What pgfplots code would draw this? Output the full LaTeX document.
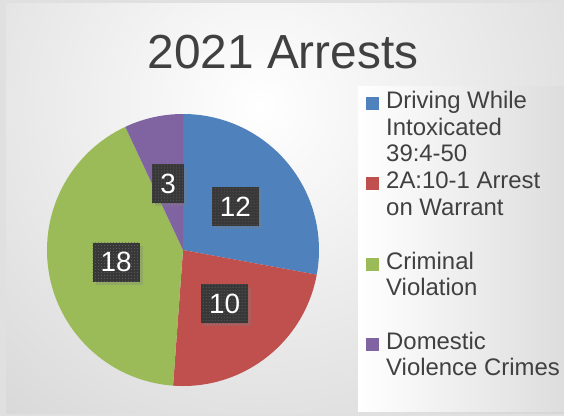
\documentclass[border=0pt]{standalone}
\usepackage{fontspec}
\setmainfont{Liberation Sans}
\usepackage{pgfplots}
\usepackage{pgfplotstable}
\pgfplotsset{compat=1.18}
\usetikzlibrary{shadows,patterns}

\definecolor{pieblue}{HTML}{4F81BD}
\definecolor{piered}{HTML}{C0504D}
\definecolor{piegreen}{HTML}{9BBB59}
\definecolor{piepurple}{HTML}{8064A2}
\definecolor{ink}{HTML}{404040}

% 2021 arrests by category
\pgfplotstableread{
label value
dwi 12
warrant 10
criminal 18
domestic 3
}\arrests

\newcommand\entry[1]{\parbox[b][74.8bp][t]{178bp}{\strut #1}}

\begin{document}
\begin{tikzpicture}[x=1bp,y=1bp]
\pgfplotstablegetelem{0}{value}\of\arrests \let\va\pgfplotsretval
\pgfplotstablegetelem{1}{value}\of\arrests \let\vb\pgfplotsretval
\pgfplotstablegetelem{2}{value}\of\arrests \let\vc\pgfplotsretval
\pgfplotstablegetelem{3}{value}\of\arrests \let\vd\pgfplotsretval
\pgfmathsetmacro\tot{\va+\vb+\vc+\vd}
\pgfmathsetmacro\aA{90}
\pgfmathsetmacro\aB{\aA-360*\va/\tot}
\pgfmathsetmacro\aC{\aB-360*\vb/\tot}
\pgfmathsetmacro\aD{\aC-360*\vc/\tot}
\pgfmathsetmacro\aE{\aD-360*\vd/\tot}
\pgfmathsetmacro\mA{(\aA+\aB)/2}
\pgfmathsetmacro\mB{(\aB+\aC)/2}
\pgfmathsetmacro\mC{(\aC+\aD)/2}
\pgfmathsetmacro\mD{(\aD+\aE)/2}

% slide background
\useasboundingbox (0,0) rectangle (564,416);
\fill[black!12] (0,0) rectangle (564,416);
\begin{scope}
  \clip (6,3) rectangle (564,412);
  \shade[inner color=white, outer color=black!24] (260,310) circle (640);
\end{scope}

\node[font=\fontsize{48}{58}\selectfont, text=ink, anchor=base] at (283,348) {2021 Arrests};

\tikzset{lab/.style={fill=black!78, text=white, font=\fontsize{28}{34}\selectfont,
  inner xsep=8bp, inner ysep=0bp, minimum height=39bp,
  drop shadow={shadow xshift=3bp, shadow yshift=-3bp, opacity=0.3},
  postaction={pattern=dots, pattern color=black!62}}}

\begin{axis}[
    at={(47bp,30bp)}, anchor=south west,
    scale only axis, width=272bp, height=272bp,
    xmin=-1, xmax=1, ymin=-1, ymax=1,
    hide axis, clip=false,
    legend image code/.code={\fill[#1, draw=none] (0bp,55bp) rectangle (13bp,68bp);},
    legend style={at={(1.1434,1.103)}, anchor=north west, draw=none,
      left color=white, right color=black!14,
      inner xsep=8bp, inner ysep=2bp,
      cells={anchor=base west},
      /tikz/every odd column/.append style={column sep=5bp},
      font=\fontsize{24}{26.5}\selectfont, text=ink},
]
\fill[pieblue] (axis cs:0,0) -- (axis cs:{cos(\aA)},{sin(\aA)}) arc[start angle=\aA, end angle=\aB, radius=136bp] -- cycle;
\fill[piered] (axis cs:0,0) -- (axis cs:{cos(\aB)},{sin(\aB)}) arc[start angle=\aB, end angle=\aC, radius=136bp] -- cycle;
\fill[piegreen] (axis cs:0,0) -- (axis cs:{cos(\aC)},{sin(\aC)}) arc[start angle=\aC, end angle=\aD, radius=136bp] -- cycle;
\fill[piepurple] (axis cs:0,0) -- (axis cs:{cos(\aD)},{sin(\aD)}) arc[start angle=\aD, end angle=\aE, radius=136bp] -- cycle;

\node[lab] at (axis cs:{0.5*cos(\mA)},{0.5*sin(\mA)}) {\va};
\node[lab] at (axis cs:{0.5*cos(\mB)},{0.5*sin(\mB)}) {\vb};
\node[lab] at (axis cs:{0.5*cos(\mC)},{0.5*sin(\mC)}) {\vc};
\node[lab] at (axis cs:{0.5*cos(\mD)},{0.5*sin(\mD)}) {\vd};

\addlegendimage{fill=pieblue}
\addlegendentry{\entry{Driving While\\Intoxicated\\39:4-50}}
\addlegendimage{fill=piered}
\addlegendentry{\entry{2A:10-1 Arrest\\on Warrant}}
\addlegendimage{fill=piegreen}
\addlegendentry{\entry{Criminal\\Violation}}
\addlegendimage{fill=piepurple}
\addlegendentry{\entry{Domestic\\Violence Crimes}}
\end{axis}
\end{tikzpicture}
\end{document}
